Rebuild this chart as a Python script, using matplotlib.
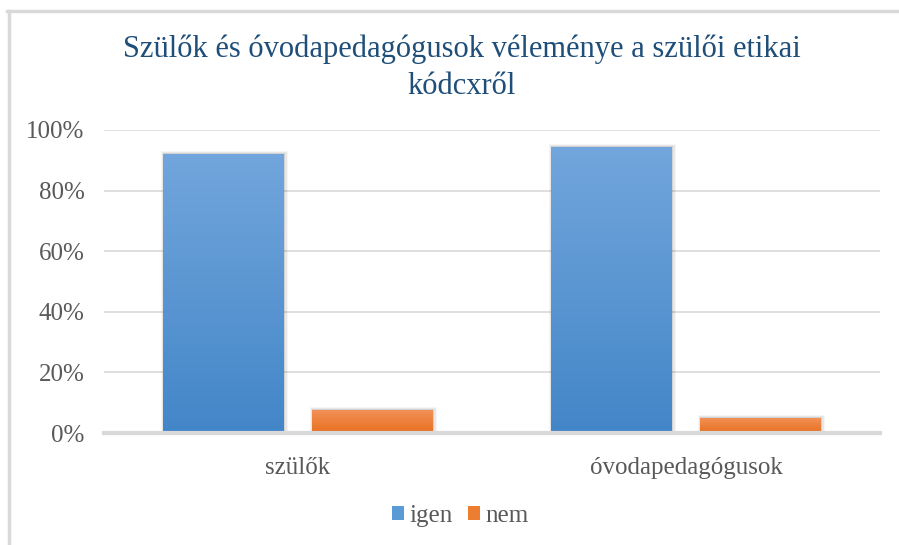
import matplotlib
matplotlib.use("Agg")
import matplotlib.pyplot as plt
import numpy as np
from matplotlib.lines import Line2D
from matplotlib.patches import Rectangle
from matplotlib.colors import LinearSegmentedColormap
from matplotlib.ticker import FuncFormatter

categories = ["szülők", "óvodapedagógusok"]
series_names = ["igen", "nem"]
igen = [0.921, 0.945]
nem = [0.076, 0.05]
yticks = [0, 0.2, 0.4, 0.6, 0.8, 1.0]
title = "Szülők és óvodapedagógusok véleménye a szülői etikai\nkódcxről"

plt.rcParams['font.family'] = ['Liberation Serif', 'DejaVu Serif']

W, H = 899, 545
fig = plt.figure(figsize=(W / 100, H / 100), dpi=100)
ax = fig.add_axes([104 / W, 1 - 433 / H, (880 - 104) / W, (433 - 130) / H])

x = np.arange(len(categories))
width = 0.31
offset = 0.192
grads = [("#72a6dc", "#4386c8"), ("#f3925a", "#e8701f")]
solid = ["#5b9bd5", "#ed7d31"]

for si, (vals, (ctop, cbot)) in enumerate(zip([igen, nem], grads)):
    xs = x + (-offset if si == 0 else offset)
    bars = ax.bar(xs, vals, width, color=solid[si], zorder=3, label=series_names[si])
    cmap = LinearSegmentedColormap.from_list("g%d" % si, [cbot, ctop])
    for b in bars:
        bx, bw, bh = b.get_x(), b.get_width(), b.get_height()
        # soft shadow, mostly to the right
        for k, a in enumerate([0.09, 0.06, 0.035]):
            sh = Rectangle((bx - 0.002 * (k + 1), 0), bw + 0.006 * (k + 1), bh + 0.003 * (k + 1),
                           facecolor="black", alpha=a, edgecolor="none", zorder=2)
            ax.add_patch(sh)
        grad = np.linspace(0, 1, 256).reshape(-1, 1)
        im = ax.imshow(grad, extent=[bx, bx + bw, 0, bh], origin="lower", cmap=cmap,
                       aspect="auto", zorder=4)
        im.set_clip_path(b)

ax.set_xlim(-0.5, 1.5)
ax.set_ylim(0, 1.0)
ax.set_yticks(yticks)
ax.yaxis.set_major_formatter(FuncFormatter(lambda v, p: f"{v*100:.0f}%"))
ax.set_xticks(x)
ax.set_xticklabels(categories)
ax.tick_params(axis="y", length=0, pad=14, labelsize=18, labelcolor="#595959")
ax.tick_params(axis="x", length=0, pad=17, labelsize=18, labelcolor="#595959")
ax.grid(axis="y", color="#d9d9d9", linewidth=1.2, zorder=0)
ax.set_axisbelow(True)
for s in ["top", "right", "left"]:
    ax.spines[s].set_visible(False)
ax.spines["bottom"].set_color("#d9d9d9")
ax.spines["bottom"].set_linewidth(3)
ax.spines["bottom"].set_zorder(5)

fig.text(462 / W, 1 - 68 / H, title, ha="center", va="center", fontsize=22,
         color="#1f4e79", linespacing=1.35, multialignment="center")

handles = [Rectangle((0, 0), 1, 1, facecolor=solid[0]), Rectangle((0, 0), 1, 1, facecolor=solid[1])]
fig.legend(handles, series_names, loc="center", bbox_to_anchor=(460 / W, 1 - 516 / H),
           ncol=2, frameon=False, fontsize=18, handlelength=0.5, handleheight=0.5,
           handletextpad=0.2, columnspacing=0.6, labelcolor="#595959")

fig.add_artist(Line2D([7 / W, 1], [1 - 11 / H, 1 - 11 / H], color="#d9d9d9", linewidth=2.5,
                      transform=fig.transFigure))
fig.add_artist(Line2D([8.5 / W, 8.5 / W], [0, 1 - 11 / H], color="#d9d9d9", linewidth=2.5,
                      transform=fig.transFigure))

fig.savefig("out.png", dpi=100)
